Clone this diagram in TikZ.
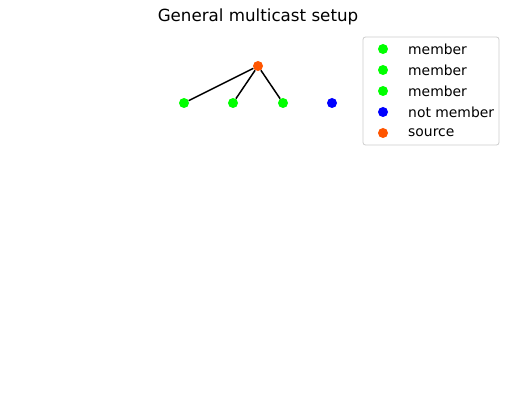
\documentclass[tikz,border=0pt]{standalone}
\usepackage{fontspec}
\setmainfont{DejaVu Sans}
\usepackage{xcolor}
\usepackage{tikz}
\usetikzlibrary{positioning,calc}
\definecolor{membergreen}{RGB}{0,255,0}
\definecolor{outsideblue}{RGB}{0,0,255}
\definecolor{sourceorange}{RGB}{255,85,0}

\begin{document}
\begin{tikzpicture}[x=1pt, y=-1pt,
    dot/.style={circle, minimum size=10pt, inner sep=0pt},
    link/.style={draw=black, line width=1.5pt},
    legendbox/.style={draw=black!20, line width=0.8pt, rounded corners=2.5pt, fill=white},
    entry/.style={anchor=west, font=\fontsize{13.9}{16}\selectfont, inner sep=0pt}
]
    \useasboundingbox (0,0) rectangle (515,409);
    \node [font=\fontsize{16.7}{20}\selectfont] (title) at (258,17) {General multicast setup};

    % Tree
    \node [dot, fill=sourceorange] (source) at (258,66) {};
    \foreach \i/\x in {1/184, 2/233, 3/283} {
        \node [dot, fill=membergreen] (member\i) at (\x,103) {};
        \draw [link] (source) -- (member\i);
    }
    \node [dot, fill=outsideblue] (outsider) at (332,103) {};

    % Legend
    \draw [legendbox] (363,37) rectangle (499,145);
    \foreach \i/\y/\c/\label in {1/49/membergreen/member, 2/70/membergreen/member, 3/91/membergreen/member, 4/112/outsideblue/not member, 5/133/sourceorange/source} {
        \node [dot, fill=\c] (key\i) at (383,\y) {};
        \node [entry] (text\i) at (408,\y) {\label};
    }
\end{tikzpicture}
\end{document}
